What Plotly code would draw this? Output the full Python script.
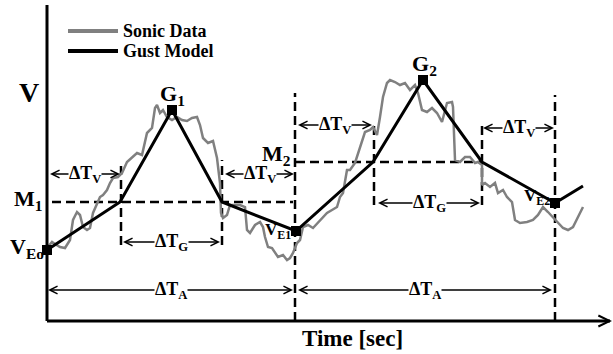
import plotly.graph_objects as go

# ---- data (time units / velocity units) ----
sonic_t = [0,5,8,13,18,23,26,30,33,36,40,43,46,50,53,56,60,63,66,71,
           75,80,85,90,95,100,105,108,110,113,116,120,125,130,135,140,145,150,153,156,
           161,166,170,173,174,176,180,183,188,193,198,200,203,208,213,216,218,221,225,228,
           231,236,240,243,246,250,253,256,261,266,273,280,285,290,293,296,300,303,308,311,
           315,318,323,326,330,331,333,336,340,343,348,353,358,363,368,371,375,380,385,390,
           395,400,405,406,408,413,418,423,428,431,435,435,438,443,448,451,456,460,465,468,
           473,480,486,491,496,501,506,511,516,521,526,531,536]
sonic_v = [73,79,77,74,73,81,101,109,106,94,91,93,108,118,124,126,131,138,143,144,
           148,159,164,168,166,188,193,213,216,208,211,204,201,204,201,200,203,204,196,183,
           178,180,163,138,108,103,106,116,116,116,114,91,88,96,99,94,84,74,73,68,
           64,66,61,63,68,78,81,94,96,93,101,108,111,114,124,128,151,151,158,168,
           181,189,191,194,186,191,204,224,238,241,239,236,238,231,236,228,211,209,213,208,
           199,218,219,214,161,159,164,164,158,159,156,136,138,134,138,128,131,124,119,101,
           98,99,101,106,114,109,104,98,93,91,94,104,114]

gust_t = [0, 73, 125, 175, 249, 326, 376, 435, 508, 536]
gust_v = [71, 119, 211, 119, 90, 159, 241, 159, 118, 135]
key_idx = [0, 2, 4, 6, 8]          # VEo, G1, VE1, G2, VE2

mean_levels = [(5, 246, 119), (249, 435, 159)]                 # M1, M2: t0, t1, V
gust_marks = [(74, 76, 159), (175, 76, 161), (327, 116, 199), (435, 116, 199)]  # t, V0, V1
period_marks = [(248, 0, 228), (508, 0, 226)]
dims = [  # t0, t1, V, label
    (3, 73, 147, "ΔT<sub>V</sub>"),
    (178, 247, 147, "ΔT<sub>V</sub>"),
    (251, 325, 196, "ΔT<sub>V</sub>"),
    (436, 507, 193, "ΔT<sub>V</sub>"),
    (76, 173, 79, "ΔT<sub>G</sub>"),
    (331, 433, 118, "ΔT<sub>G</sub>"),
    (1, 246, 31, "ΔT<sub>A</sub>"),
    (251, 505, 31, "ΔT<sub>A</sub>"),
]
point_labels = [  # t, V, text, size, xanchor
    (125, 226, "G<sub>1</sub>", 22, "center"),
    (377, 256, "G<sub>2</sub>", 22, "center"),
    (-19, 121, "M<sub>1</sub>", 22, "center"),
    (229, 166, "M<sub>2</sub>", 22, "center"),
    (-20, 73, "V<sub>Eo</sub>", 22, "center"),
    (246, 90, "V<sub>E1</sub>", 17, "right"),
    (505, 124, "V<sub>E2</sub>", 17, "right"),
]
legend_items = [("Sonic Data", "#808080", 290), ("Gust Model", "black", 270)]

SERIF = "Liberation Serif"
fig = go.Figure()

dash = "9px,5px"
for (t0, t1, v) in mean_levels:
    fig.add_shape(type="line", x0=t0, x1=t1, y0=v, y1=v, layer="below",
                  line=dict(color="black", width=2.5, dash=dash))
for (t, v0, v1) in gust_marks + period_marks:
    fig.add_shape(type="line", x0=t, x1=t, y0=v0, y1=v1, layer="below",
                  line=dict(color="black", width=2.5, dash=dash))

fig.add_trace(go.Scatter(x=sonic_t, y=sonic_v, mode="lines", name="Sonic Data",
                         line=dict(color="#808080", width=2.5), showlegend=False))
fig.add_trace(go.Scatter(x=gust_t, y=gust_v, mode="lines", name="Gust Model",
                         line=dict(color="black", width=3), showlegend=False))
fig.add_trace(go.Scatter(x=[gust_t[i] for i in key_idx], y=[gust_v[i] for i in key_idx],
                         mode="markers", marker=dict(symbol="square", size=10, color="black"),
                         showlegend=False, hoverinfo="skip"))

# axes
fig.add_shape(type="line", x0=0, x1=563, y0=0, y1=0, line=dict(color="black", width=3))
fig.add_shape(type="line", x0=0, x1=0, y0=0, y1=316, line=dict(color="black", width=3))
fig.add_annotation(x=565, y=0, ax=548, ay=0, axref="x", ayref="y", text="",
                   showarrow=True, arrowhead=5, arrowwidth=2, arrowsize=1.1,
                   arrowcolor="black", standoff=0)

# dimension arrows
for (t0, t1, v, lab) in dims:
    mid = (t0 + t1) / 2
    for end in (t0, t1):
        fig.add_annotation(x=end, y=v, ax=mid, ay=v, axref="x", ayref="y", text="",
                           showarrow=True, arrowhead=5, arrowwidth=1.4, arrowsize=1.1,
                           arrowcolor="black", standoff=0)
for (t0, t1, v, lab) in dims:
    mid = (t0 + t1) / 2
    fig.add_annotation(x=mid, y=v, text=lab, showarrow=False, bgcolor="white", borderpad=0,
                       font=dict(family=SERIF, size=18, color="black", weight="bold"))

for (t, v, txt, sz, xa) in point_labels:
    fig.add_annotation(x=t, y=v, text=txt, showarrow=False, xanchor=xa,
                       font=dict(family=SERIF, size=sz, color="black", weight="bold"))

# axis titles
fig.add_annotation(x=-18, y=229, text="V", showarrow=False,
                   font=dict(family=SERIF, size=28, color="black", weight="bold"))
fig.add_annotation(x=305, y=-17, text="Time [sec]", showarrow=False,
                   font=dict(family=SERIF, size=23, color="black", weight="bold"))

# legend
for (lab, col, v) in legend_items:
    fig.add_shape(type="line", x0=21, x1=71, y0=v, y1=v, line=dict(color=col, width=4))
    fig.add_annotation(x=74, y=v, text=lab, showarrow=False, xanchor="left",
                       font=dict(family=SERIF, size=18, color="black", weight="bold"))

fig.update_layout(
    width=613, height=354, margin=dict(l=0, r=0, t=0, b=0),
    paper_bgcolor="white", plot_bgcolor="white",
    xaxis=dict(range=[-47, 566], visible=False),
    yaxis=dict(range=[-33, 321], visible=False),
    showlegend=False,
)
fig.write_html("out.html")
